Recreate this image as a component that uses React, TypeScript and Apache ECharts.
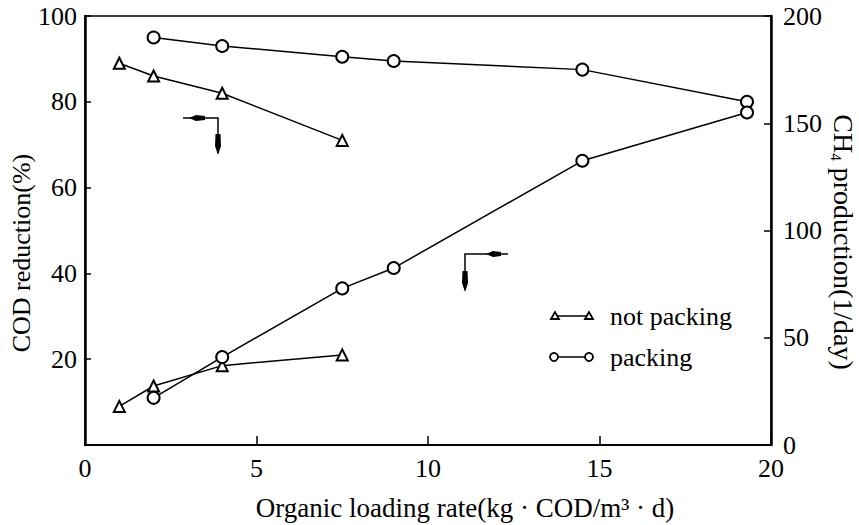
import React, { useEffect, useRef } from "react";
import * as echarts from "echarts";

// Organic loading rate (kg·COD/m³·d)
const loadNotPacking = [1, 2, 4, 7.5];
const loadPacking = [2, 4, 7.5, 9, 14.5, 19.3];
// COD reduction (%)
const codNotPacking = [89, 86, 82, 71];
const codPacking = [95, 93, 90.5, 89.5, 87.5, 80];
// CH4 production (1/day)
const ch4NotPacking = [18, 27.5, 37, 42];
const ch4Packing = [22, 41, 73, 82.5, 132.5, 155];

const xTicks = [0, 5, 10, 15, 20];
const codTicks = [0, 20, 40, 60, 80, 100];
const ch4Ticks = [0, 50, 100, 150, 200];

const FONT = "Liberation Serif";

function pairs(xs: number[], ys: number[]) {
  return xs.map((x, i) => [x, ys[i]]);
}

export default function App() {
  const ref = useRef<HTMLDivElement>(null);
  useEffect(() => {
    if (!ref.current) return;
    const chart = echarts.init(ref.current, null, { renderer: "svg" });
    const black = "#000";
    const lineSeries = (name: string, data: number[][], yAxisIndex: number, symbol: string, size: number) => ({
      name,
      type: "line",
      yAxisIndex,
      data,
      symbol,
      symbolSize: size,
      lineStyle: { color: black, width: 1.5 },
      itemStyle: { color: black, borderColor: black, borderWidth: 2 },
      z: 3,
    });
    const labelStyle = { color: black, fontFamily: FONT, fontSize: 26 };
    const txt = (text: string, x: number, y: number, extra: any = {}) => ({
      type: "text",
      x,
      y,
      ...extra,
      style: {
        text,
        fontFamily: FONT,
        fontSize: 26,
        fill: black,
        textVerticalAlign: "middle",
        ...(extra.style || {}),
      },
    });
    chart.setOption({
      animation: false,
      backgroundColor: "#fff",
      textStyle: { fontFamily: FONT },
      grid: {
        left: 85,
        right: 88,
        top: 16,
        bottom: 80,
        show: true,
        borderColor: black,
        borderWidth: 1.5,
        backgroundColor: "transparent",
      },
      xAxis: {
        type: "value",
        min: xTicks[0],
        max: xTicks[xTicks.length - 1],
        interval: 5,
        axisLine: { show: true, lineStyle: { color: black, width: 2 } },
        axisTick: { show: true, inside: true, length: 9, lineStyle: { color: black, width: 1.5 } },
        axisLabel: { ...labelStyle, margin: 10 },
        splitLine: { show: false },
      },
      yAxis: [
        {
          type: "value",
          position: "left",
          min: codTicks[0],
          max: codTicks[codTicks.length - 1],
          interval: 20,
          axisLine: { show: true, lineStyle: { color: black, width: 2.5 } },
          axisTick: { show: true, inside: true, length: 6, lineStyle: { color: black, width: 1.5 } },
          axisLabel: { ...labelStyle, margin: 8, formatter: (v: number) => (v === 0 ? "" : String(v)) },
          splitLine: { show: false },
        },
        {
          type: "value",
          position: "right",
          min: ch4Ticks[0],
          max: ch4Ticks[ch4Ticks.length - 1],
          interval: 50,
          axisLine: { show: true, lineStyle: { color: black, width: 2.5 } },
          axisTick: { show: true, inside: true, length: 7, lineStyle: { color: black, width: 1.5 } },
          axisLabel: { ...labelStyle, margin: 12 },
          splitLine: { show: false },
        },
      ],
      series: [
        lineSeries("COD not packing", pairs(loadNotPacking, codNotPacking), 0, "emptyTriangle", 11),
        lineSeries("COD packing", pairs(loadPacking, codPacking), 0, "emptyCircle", 12),
        lineSeries("CH4 not packing", pairs(loadNotPacking, ch4NotPacking), 1, "emptyTriangle", 11),
        lineSeries("CH4 packing", pairs(loadPacking, ch4Packing), 1, "emptyCircle", 12),
      ],
      graphic: [
        txt("COD reduction(%)", 21, 253, { rotation: Math.PI / 2, style: { textAlign: "center" } }),
        txt("CH{sub|4} production(1/day)", 843, 242, {
          rotation: -Math.PI / 2,
          style: {
            textAlign: "center",
            fontSize: 28,
            rich: {
              sub: { fontSize: 15, fontFamily: FONT, fill: black, verticalAlign: "bottom", lineHeight: 30 },
            },
          },
        }),
        txt("Organic loading rate(kg · COD/m³ · d)", 465, 508, { style: { textAlign: "center", fontSize: 27 } }),
        // arrow pointing to left axis
        {
          type: "polyline",
          shape: { points: [[183, 118], [218, 118], [218, 153]] },
          style: { stroke: black, lineWidth: 1.5, fill: null },
        },
        { type: "polygon", shape: { points: [[189, 118], [196, 115], [205, 116], [205, 120], [196, 121]] }, style: { fill: black } },
        { type: "polygon", shape: { points: [[218, 155], [215, 146], [215.5, 134], [220.5, 134], [221, 146]] }, style: { fill: black } },
        // arrow pointing to right axis
        {
          type: "polyline",
          shape: { points: [[508, 254], [465, 254], [465, 290]] },
          style: { stroke: black, lineWidth: 1.5, fill: null },
        },
        { type: "polygon", shape: { points: [[486, 254], [493, 251], [501, 252], [501, 256], [493, 257]] }, style: { fill: black } },
        { type: "polygon", shape: { points: [[465, 292], [462, 283], [462.5, 271], [467.5, 271], [468, 283]] }, style: { fill: black } },
        // legend
        {
          type: "line",
          shape: { x1: 553, y1: 316, x2: 590, y2: 316 },
          style: { stroke: black, lineWidth: 1.5 },
        },
        {
          type: "polygon",
          shape: { points: [[551, 319], [555, 312], [559, 319]] },
          style: { fill: "#fff", stroke: black, lineWidth: 1.8 },
        },
        {
          type: "polygon",
          shape: { points: [[585, 319], [589, 312], [593, 319]] },
          style: { fill: "#fff", stroke: black, lineWidth: 1.8 },
        },
        txt("not packing", 610, 316),
        {
          type: "line",
          shape: { x1: 553, y1: 357, x2: 590, y2: 357 },
          style: { stroke: black, lineWidth: 1.5 },
        },
        { type: "circle", shape: { cx: 554, cy: 357, r: 4 }, style: { fill: "#fff", stroke: black, lineWidth: 1.8 } },
        { type: "circle", shape: { cx: 589, cy: 357, r: 4 }, style: { fill: "#fff", stroke: black, lineWidth: 1.8 } },
        txt("packing", 610, 357),
      ],
    });
    return () => chart.dispose();
  }, []);
  return (
    <div
      ref={ref}
      style={{ position: "fixed", left: 0, top: 0, width: 859, height: 525, background: "#fff" }}
    />
  );
}
